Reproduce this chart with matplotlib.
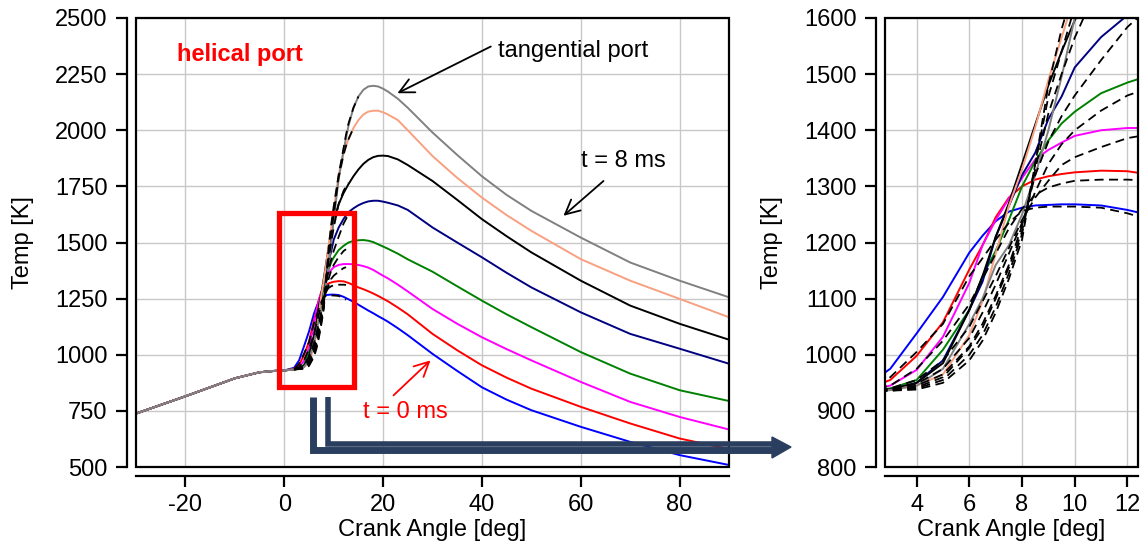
import numpy as np
import matplotlib
matplotlib.use("Agg")
import matplotlib.pyplot as plt
from matplotlib.patches import Rectangle, Polygon
from matplotlib.lines import Line2D

plt.rcParams['font.family'] = ['Liberation Sans', 'DejaVu Sans']
plt.rcParams['font.size'] = 17
plt.rcParams['axes.unicode_minus'] = False

nan = np.nan

# crank angle grid [deg] for the helical port curves (solid)
ca = [-30, -20, -10, -5, -2, 0,
      2, 3, 4, 5, 6, 6.5, 7, 7.5, 8, 8.5, 9, 9.5, 10,
      11, 12, 13, 14, 15, 16, 17, 18, 19, 20, 21,
      23, 25, 30, 35, 40, 45, 50, 60, 70, 80, 90]
comp = [738, 815, 895, 922, 928, 930]   # common compression part, -30..0 deg

t0_blue = comp + [942, 975, 1038, 1103, 1182, 1212, 1238, 1255, 1262, 1266, 1267, 1268, 1268,
                  1266, 1258, 1247, 1236, 1223, 1210, 1197, 1185, 1172, 1160, 1147,
                  1118, 1087, 1004, 928, 855, 800, 753, 679, 612, 553, 509]
t1_red = comp + [938, 955, 998, 1058, 1152, 1195, 1245, 1280, 1300, 1312, 1318, 1322, 1325,
                 1328, 1327, 1320, 1310, 1300, 1292, 1283, 1273, 1262, 1250, 1238,
                 1210, 1180, 1093, 1020, 953, 898, 849, 768, 694, 627, 580]
t2_magenta = comp + [936, 945, 973, 1032, 1128, 1195, 1240, 1278, 1315, 1348, 1365, 1378, 1390,
                     1400, 1404, 1404, 1403, 1400, 1395, 1388, 1378, 1365, 1352, 1340,
                     1312, 1282, 1204, 1138, 1078, 1025, 975, 879, 790, 723, 667]
t3_green = comp + [935, 940, 955, 1009, 1080, 1140, 1185, 1240, 1300, 1345, 1382, 1412, 1433,
                   1466, 1485, 1500, 1507, 1510, 1511, 1508, 1502, 1492, 1482, 1472,
                   1450, 1425, 1370, 1305, 1241, 1180, 1123, 1012, 916, 842, 794]
t4_navy = comp + [935, 938, 950, 990, 1080, 1130, 1210, 1265, 1320, 1360, 1420, 1460, 1512,
                  1566, 1605, 1635, 1652, 1666, 1676, 1683, 1686, 1686, 1682, 1677,
                  1665, 1645, 1567, 1500, 1434, 1365, 1300, 1189, 1093, 1027, 960]
t5_black = comp + [935, 938, 950, 985, 1080, 1140, 1210, 1270, 1340, 1410, 1480, 1540, 1596,
                   1670, 1720, 1760, 1795, 1825, 1850, 1868, 1880, 1886, 1887, 1885,
                   1870, 1845, 1774, 1690, 1604, 1528, 1456, 1330, 1219, 1138, 1067]
t6_salmon = comp + [935, 937, 945, 965, 1035, 1095, 1180, 1265, 1330, 1405, 1490, 1565, 1640,
                    1800, 1900, 1960, 2010, 2045, 2070, 2083, 2087, 2087, 2080, 2070,
                    2045, 2000, 1885, 1788, 1700, 1622, 1552, 1426, 1330, 1249, 1167]
t7_gray = comp + [935, 937, 945, 975, 1055, 1100, 1160, 1195, 1250, 1320, 1400, 1495, 1600,
                  1780, 1910, 2020, 2100, 2150, 2180, 2195, 2198, 2195, 2185, 2172,
                  2140, 2100, 1990, 1890, 1795, 1712, 1641, 1522, 1411, 1330, 1256]

# crank angle grid for the tangential port curves (dashed)
ca_t = [2, 3, 4, 5, 6, 6.5, 7, 7.5, 8, 8.5, 9, 9.5, 10, 11, 12, 12.5, 13, 14, 15]
tan0 = [935, 960, 1005, 1055, 1140, 1172, 1205, 1235, 1256, 1262, 1264, 1264, 1264, 1262, 1252, 1245, nan, nan, nan]
tan1 = [935, 945, 975, 1025, 1090, 1135, 1180, 1225, 1260, 1285, 1298, 1305, 1310, 1312, 1312, 1311, nan, nan, nan]
tan2 = [935, 940, 955, 990, 1050, 1095, 1140, 1190, 1240, 1280, 1310, 1338, 1352, 1370, 1386, 1390, nan, nan, nan]
tan3 = [935, 938, 948, 975, 1030, 1075, 1125, 1180, 1235, 1290, 1340, 1375, 1400, 1435, 1462, 1470, nan, nan, nan]
tan4 = [935, 937, 945, 965, 1015, 1055, 1105, 1160, 1230, 1320, 1380, 1425, 1462, 1525, 1584, 1605, 1625, nan, nan]
tan5 = [935, 937, 942, 960, 1012, 1048, 1100, 1155, 1220, 1330, 1430, 1500, 1565, 1670, 1730, 1750, 1765, nan, nan]
tan6 = [935, 936, 940, 955, 1000, 1035, 1085, 1145, 1215, 1340, 1460, 1540, 1620, 1790, 1890, 1930, 1960, 2010, nan]
tan7 = [935, 936, 938, 950, 990, 1025, 1075, 1135, 1205, 1340, 1480, 1580, 1660, 1800, 1920, 1980, 2030, 2100, 2150]

helical = [t0_blue, t1_red, t2_magenta, t3_green, t4_navy, t5_black, t6_salmon, t7_gray]
tangential = [tan0, tan1, tan2, tan3, tan4, tan5, tan6, tan7]
colors = ['#0000ff', '#ff0000', '#ff00ff', '#008000', '#000080', '#000000', '#f8a080', '#808080']

W, H = 1141, 549
fig = plt.figure(figsize=(W / 100, H / 100), dpi=100)
ax1 = fig.add_axes([136 / W, 1 - 467 / H, (729 - 136) / W, (467 - 18) / H])
ax2 = fig.add_axes([885 / W, 1 - 467 / H, (1138 - 885) / W, (467 - 18) / H])


def style(ax, xlim, ylim, xticks, yticks):
    ax.set_xlim(*xlim)
    ax.set_ylim(*ylim)
    ax.set_xticks(xticks)
    ax.set_yticks(yticks)
    ax.grid(True, color='#c8c8c8', lw=1.0)
    ax.set_axisbelow(True)
    for s in ['top', 'right']:
        ax.spines[s].set_visible(False)
    for s in ['left', 'bottom']:
        ax.spines[s].set_position(('outward', 6.5))
        ax.spines[s].set_linewidth(1.6)
    ax.add_patch(Rectangle((0, 0), 1, 1, transform=ax.transAxes, fill=False,
                           lw=1.6, ec='black', zorder=5, clip_on=False))
    ax.tick_params(direction='out', length=8, width=1.6, labelsize=17)
    ax.tick_params(axis='y', pad=6)
    ax.tick_params(axis='x', pad=5)
    ax.set_xlabel('Crank Angle [deg]', fontsize=17, labelpad=2)
    ax.set_ylabel('Temp [K]', fontsize=17, labelpad=15)


for ax in (ax1, ax2):
    for T, c in zip(helical, colors):
        ax.plot(ca, T, color=c, lw=1.4)
    for T in tangential:
        ax.plot(ca_t, T, color='black', lw=1.3, ls=(0, (5, 3)))

style(ax1, (-30, 90), (500, 2500), [-20, 0, 20, 40, 60, 80], np.arange(500, 2501, 250))
style(ax2, (2.8, 12.4), (800, 1600), [4, 6, 8, 10, 12], np.arange(800, 1601, 100))

# zoom rectangle
ax1.add_patch(Rectangle((-1.0, 856), 15.1, 777, fill=False, ec='#ff0000', lw=3.8, zorder=6))

# annotations
arrow_k = dict(arrowstyle='->', lw=1.3, mutation_scale=26, shrinkA=0, shrinkB=0)
ax1.text(-21.8, 2338, 'helical port', color='#ff0000', fontsize=17, fontweight='bold',
         va='center', ha='left')
ax1.text(43.3, 2351, 'tangential port', fontsize=17, va='center', ha='left')
ax1.annotate('', xy=(22.9, 2165), xytext=(41.8, 2373),
             arrowprops=dict(arrow_k, color='black'))
ax1.text(68.7, 1863, 't = 8 ms', fontsize=17, va='center', ha='center')
ax1.annotate('', xy=(56.5, 1619), xytext=(64.6, 1774),
             arrowprops=dict(arrow_k, color='black'))
ax1.text(24.6, 743, 't = 0 ms', fontsize=17, color='#ff0000', va='center', ha='center')
ax1.annotate('', xy=(29.6, 975), xytext=(22.1, 819),
             arrowprops=dict(arrow_k, color='#ff0000'))

# connector arrow from the zoom box to the right chart (figure pixels)
nv = '#2a3f5f'
def fxy(px, py):
    return px / W, 1 - py / H

for xs, ys, lw in [([313, 313, 778], [397, 450, 450], 5.0),
                   ([327.5, 327.5, 778], [397, 444, 444], 4.0)]:
    pts = [fxy(x, y) for x, y in zip(xs, ys)]
    fig.add_artist(Line2D([p[0] for p in pts], [p[1] for p in pts], color=nv, lw=lw,
                          solid_joinstyle='miter', solid_capstyle='butt'))
fig.add_artist(Polygon([fxy(772, 437), fxy(791, 447), fxy(772, 458)], closed=True,
                       color=nv, transform=fig.transFigure))

fig.savefig('out.png', dpi=100)
